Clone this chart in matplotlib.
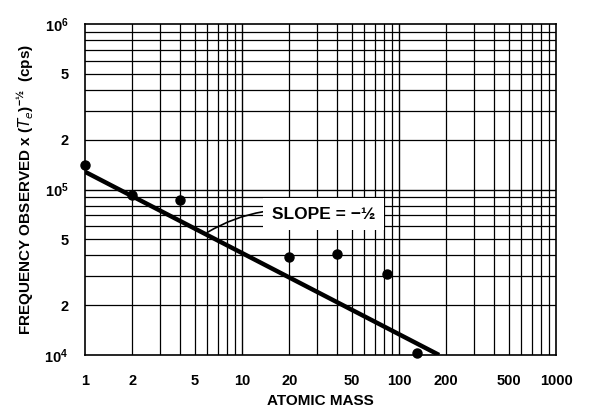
import matplotlib
matplotlib.use("Agg")
import matplotlib.pyplot as plt
import numpy as np

plt.rcParams['font.family'] = ['Liberation Sans', 'DejaVu Sans']
plt.rcParams['mathtext.default'] = 'regular'

# data
atomic_mass = [1, 2, 4, 20, 40, 84, 131]
freq_obs = [1.4e5, 9.3e4, 8.6e4, 3.9e4, 4.1e4, 3.1e4, 1.03e4]
fit_x = [1, 180]
fit_y = [1.28e5, 1.0e4]
xtick_vals = [1, 2, 5, 10, 20, 50, 100, 200, 500, 1000]
xtick_labels = ['1', '2', '5', '10', '20', '50', '100', '200', '500', '1000']
ytick_vals = [1e4, 2e4, 5e4, 1e5, 2e5, 5e5, 1e6]
ytick_labels = [r'$10^4$', '2', '5', r'$10^5$', '2', '5', r'$10^6$']

fig = plt.figure(figsize=(6.0, 4.07), dpi=100)
ax = fig.add_axes([0.1417, 0.1278, 0.785, 0.813])
ax.set_xscale('log')
ax.set_yscale('log')
ax.set_xlim(1, 1000)
ax.set_ylim(1e4, 1e6)

# grid on all decade subdivisions
for d in [1, 10, 100]:
    for m in range(1, 10):
        v = d * m
        if 1 < v < 1000:
            ax.axvline(v, color='black', lw=1.0 if m == 1 else 0.9, zorder=1)
for d in [1e4, 1e5]:
    for m in range(1, 10):
        v = d * m
        if 1e4 < v < 1e6:
            ax.axhline(v, color='black', lw=1.0 if m == 1 else 0.9, zorder=1)

for s in ax.spines.values():
    s.set_linewidth(1.2)

ax.plot(fit_x, fit_y, color='black', lw=3.2, solid_capstyle='butt', zorder=3)
ax.plot(atomic_mass, freq_obs, 'o', color='black', ms=6.5, zorder=4, clip_on=False)

ax.set_xticks(xtick_vals)
ax.set_xticklabels(xtick_labels)
ax.set_yticks(ytick_vals)
ax.set_yticklabels(ytick_labels)
ax.minorticks_off()
ax.tick_params(axis='both', length=0, labelsize=10.5)
ax.tick_params(axis='x', pad=14)
ax.tick_params(axis='y', pad=12)
for lab in ax.get_xticklabels() + ax.get_yticklabels():
    lab.set_fontweight('bold')

ax.set_xlabel('ATOMIC MASS', fontsize=11, fontweight='bold', labelpad=4)
ax.set_ylabel(r'FREQUENCY OBSERVED x $(\mathit{T_e})^{-½}$  (cps)',
              fontsize=11, fontweight='bold')
ax.yaxis.set_label_coords(-0.105, 0.5)

ax.annotate('SLOPE = \u2212\u00bd', xy=(6.0, 5.5e4), xytext=(15.5, 7.1e4),
            fontsize=12.5, fontweight='bold', va='center', ha='left',
            bbox=dict(boxstyle='square,pad=0.5', fc='white', ec='none'),
            arrowprops=dict(arrowstyle='-', color='black', lw=1.2,
                            connectionstyle='arc3,rad=0.2',
                            shrinkA=0, shrinkB=0),
            zorder=5)

fig.savefig('out.png', dpi=100)
